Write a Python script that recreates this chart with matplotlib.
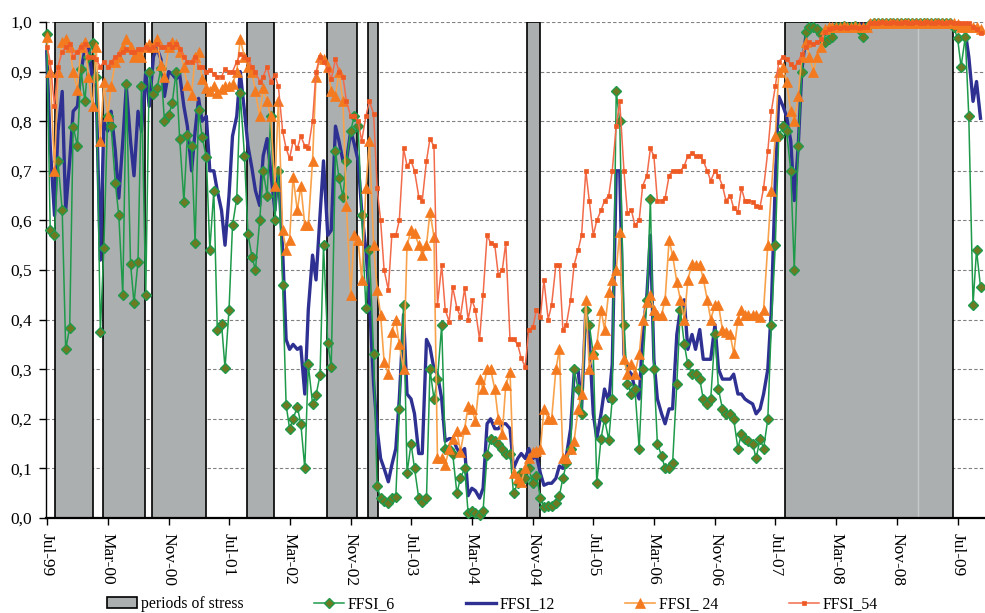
import pandas as pd
import matplotlib
matplotlib.use('Agg')
import matplotlib.pyplot as plt
import matplotlib.dates as mdates
from matplotlib.ticker import FuncFormatter

plt.rcParams['font.family'] = ['Liberation Serif', 'DejaVu Serif']

# semi-monthly observations starting 1 Jul 1999 (1st and 15th of each month)
start = '1999-07-01'

ffsi_6 = [
    0.975, 0.58, 0.57, 0.72, 0.62, 0.34, 0.384, 0.789, 0.75, 0.906, 0.84, 0.93,  # 1999
    0.957, 0.89, 0.376, 0.544, 0.81, 0.79, 0.675, 0.61, 0.45, 0.876, 0.513, 0.433,
    0.517, 0.87, 0.45, 0.90, 0.855, 0.866, 0.907, 0.80, 0.812, 0.836, 0.90, 0.765,  # 2000
    0.638, 0.772, 0.749, 0.554, 0.823, 0.769, 0.728, 0.54, 0.66, 0.379, 0.392, 0.302,
    0.42, 0.59, 0.644, 0.856, 0.73, 0.572, 0.527, 0.50, 0.60, 0.70, 0.65, 0.81,  # 2001
    0.60, 0.70, 0.47, 0.228, 0.18, 0.20, 0.224, 0.19, 0.10, 0.31, 0.23, 0.248,
    0.288, 0.55, 0.352, 0.305, 0.74, 0.685, 0.648, 0.72, 0.78, 0.81, 0.79, 0.61,  # 2002
    0.423, 0.54, 0.33, 0.065, 0.04, 0.035, 0.03, 0.04, 0.043, 0.22, 0.43, 0.09,
    0.15, 0.10, 0.04, 0.033, 0.04, 0.30, 0.24, 0.28, 0.389, 0.14, 0.14, 0.13,  # 2003
    0.05, 0.08, 0.10, 0.01, 0.015, 0.01, 0.006, 0.015, 0.127, 0.16, 0.155, 0.15,
    0.14, 0.13, 0.13, 0.05, 0.07, 0.09, 0.08, 0.10, 0.07, 0.085, 0.04, 0.023,  # 2004
    0.025, 0.025, 0.03, 0.045, 0.08, 0.11, 0.14, 0.30, 0.26, 0.21, 0.42, 0.39,
    0.33, 0.07, 0.16, 0.20, 0.157, 0.24, 0.86, 0.80, 0.39, 0.27, 0.25, 0.26,  # 2005
    0.14, 0.30, 0.44, 0.644, 0.30, 0.15, 0.125, 0.10, 0.10, 0.11, 0.27, 0.42,
    0.35, 0.31, 0.29, 0.29, 0.28, 0.24, 0.23, 0.24, 0.37, 0.26, 0.22, 0.21,  # 2006
    0.21, 0.20, 0.14, 0.17, 0.16, 0.155, 0.15, 0.12, 0.16, 0.14, 0.20, 0.39,
    0.55, 0.77, 0.79, 0.78, 0.70, 0.50, 0.75, 0.90, 0.98, 0.99, 0.99, 0.985,  # 2007
    0.975, 0.96, 0.965, 0.97, 0.99, 0.99, 0.992, 0.99, 0.99, 0.992, 0.985, 0.97,
    0.99, 0.995, 0.997, 0.997, 0.997, 0.998, 0.997, 0.997, 0.998, 0.997, 0.997, 0.998,  # 2008
    0.997, 0.997, 0.998, 0.997, 0.997, 0.998, 0.997, 0.997, 0.997, 0.998, 0.997, 0.99,
    0.967, 0.91, 0.97, 0.81, 0.43, 0.54, 0.466,  # 2009
]

ffsi_12 = [
    0.94, 0.75, 0.61, 0.78, 0.86, 0.62, 0.72, 0.82, 0.83, 0.90, 0.945, 0.955,
    0.88, 0.87, 0.52, 0.80, 0.78, 0.82, 0.74, 0.645, 0.76, 0.87, 0.76, 0.69,
    0.82, 0.78, 0.90, 0.83, 0.93, 0.947, 0.925, 0.85, 0.90, 0.895, 0.885, 0.895,
    0.83, 0.79, 0.70, 0.78, 0.846, 0.80, 0.81, 0.70, 0.70, 0.66, 0.62, 0.55,
    0.65, 0.77, 0.81, 0.90, 0.82, 0.75, 0.705, 0.66, 0.63, 0.73, 0.765, 0.70,
    0.62, 0.70, 0.54, 0.36, 0.34, 0.35, 0.34, 0.345, 0.25, 0.42, 0.53, 0.48,
    0.61, 0.72, 0.57, 0.58, 0.79, 0.76, 0.72, 0.72, 0.78, 0.755, 0.72, 0.62,
    0.54, 0.44, 0.27, 0.18, 0.12, 0.10, 0.073, 0.107, 0.14, 0.24, 0.41, 0.25,
    0.24, 0.21, 0.13, 0.13, 0.36, 0.345, 0.30, 0.29, 0.24, 0.155, 0.16, 0.16,
    0.14, 0.13, 0.14, 0.045, 0.06, 0.055, 0.04, 0.06, 0.19, 0.20, 0.18, 0.18,
    0.19, 0.19, 0.18, 0.10, 0.12, 0.13, 0.12, 0.14, 0.12, 0.125, 0.09, 0.066,
    0.07, 0.07, 0.08, 0.105, 0.10, 0.125, 0.18, 0.29, 0.30, 0.22, 0.42, 0.36,
    0.21, 0.16, 0.21, 0.26, 0.235, 0.31, 0.70, 0.70, 0.33, 0.30, 0.29, 0.26,
    0.24, 0.37, 0.45, 0.57, 0.32, 0.24, 0.21, 0.19, 0.22, 0.22, 0.37, 0.42,
    0.44, 0.34, 0.37, 0.34, 0.38, 0.32, 0.32, 0.32, 0.39, 0.30, 0.28, 0.28,
    0.28, 0.29, 0.25, 0.25, 0.24, 0.235, 0.23, 0.21, 0.22, 0.25, 0.30, 0.42,
    0.68, 0.85, 0.83, 0.81, 0.76, 0.64, 0.75, 0.90, 0.975, 0.985, 0.985, 0.985,
    0.98, 0.975, 0.98, 0.99, 0.99, 0.99, 0.99, 0.99, 0.99, 0.995, 0.995, 0.995,
    0.995, 0.995, 0.995, 0.995, 0.995, 0.995, 0.995, 0.995, 0.995, 0.995, 0.995, 0.995,
    0.995, 0.995, 0.995, 0.995, 0.995, 0.995, 0.995, 0.995, 0.995, 0.995, 0.995, 0.995,
    0.987, 0.987, 0.98, 0.93, 0.84, 0.88, 0.806,
]

ffsi_24 = [
    0.97, 0.90, 0.70, 0.90, 0.96, 0.965, 0.95, 0.90, 0.863, 0.95, 0.96, 0.89,
    0.83, 0.95, 0.76, 0.88, 0.81, 0.87, 0.92, 0.93, 0.95, 0.965, 0.95, 0.93,
    0.94, 0.93, 0.95, 0.955, 0.95, 0.965, 0.913, 0.89, 0.95, 0.96, 0.955, 0.94,
    0.91, 0.873, 0.853, 0.93, 0.94, 0.886, 0.866, 0.86, 0.87, 0.856, 0.865, 0.87,
    0.87, 0.875, 0.90, 0.965, 0.93, 0.91, 0.90, 0.86, 0.81, 0.866, 0.84, 0.81,
    0.67, 0.84, 0.58, 0.54, 0.56, 0.688, 0.62, 0.67, 0.59, 0.59, 0.72, 0.89,
    0.93, 0.925, 0.91, 0.86, 0.85, 0.90, 0.84, 0.63, 0.45, 0.57, 0.56, 0.48,
    0.665, 0.76, 0.55, 0.46, 0.41, 0.315, 0.29, 0.376, 0.40, 0.35, 0.30, 0.55,
    0.58, 0.575, 0.55, 0.53, 0.55, 0.617, 0.567, 0.12, 0.12, 0.107, 0.14, 0.16,
    0.175, 0.134, 0.18, 0.225, 0.22, 0.195, 0.28, 0.26, 0.30, 0.30, 0.26, 0.20,
    0.17, 0.268, 0.295, 0.09, 0.08, 0.072, 0.10, 0.12, 0.134, 0.135, 0.14, 0.22,
    0.20, 0.20, 0.30, 0.34, 0.12, 0.12, 0.14, 0.155, 0.22, 0.25, 0.44, 0.30,
    0.33, 0.35, 0.42, 0.38, 0.456, 0.48, 0.50, 0.577, 0.32, 0.29, 0.31, 0.29,
    0.33, 0.40, 0.436, 0.45, 0.42, 0.41, 0.41, 0.44, 0.56, 0.53, 0.476, 0.44,
    0.40, 0.48, 0.513, 0.51, 0.51, 0.483, 0.44, 0.40, 0.43, 0.43, 0.38, 0.375,
    0.37, 0.332, 0.40, 0.42, 0.41, 0.41, 0.41, 0.41, 0.405, 0.42, 0.55, 0.66,
    0.77, 0.90, 0.91, 0.88, 0.82, 0.80, 0.85, 0.93, 0.96, 0.93, 0.90, 0.93,
    0.95, 0.985, 0.99, 0.99, 0.99, 0.99, 0.992, 0.99, 0.99, 0.992, 0.99, 0.99,
    0.99, 0.997, 0.997, 0.997, 0.998, 0.997, 0.997, 0.998, 0.997, 0.997, 0.998, 0.997,
    0.997, 0.998, 0.997, 0.997, 0.998, 0.997, 0.997, 0.998, 0.997, 0.997, 0.998, 0.997,
    0.995, 0.99, 0.99, 0.99, 0.99, 0.99, 0.985,
]

ffsi_54 = [
    0.95, 0.92, 0.83, 0.91, 0.94, 0.95, 0.955, 0.93, 0.94, 0.95, 0.955, 0.93,
    0.93, 0.925, 0.91, 0.92, 0.91, 0.92, 0.93, 0.935, 0.94, 0.945, 0.94, 0.94,
    0.945, 0.945, 0.95, 0.945, 0.95, 0.955, 0.95, 0.95, 0.955, 0.95, 0.955, 0.945,
    0.93, 0.92, 0.92, 0.93, 0.91, 0.91, 0.90, 0.904, 0.895, 0.89, 0.89, 0.905,
    0.90, 0.90, 0.92, 0.935, 0.93, 0.925, 0.91, 0.90, 0.88, 0.89, 0.91, 0.88,
    0.893, 0.87, 0.78, 0.745, 0.725, 0.76, 0.745, 0.77, 0.75, 0.745, 0.80, 0.90,
    0.93, 0.92, 0.905, 0.885, 0.925, 0.90, 0.89, 0.84, 0.81, 0.81, 0.80, 0.76,
    0.81, 0.84, 0.815, 0.665, 0.60, 0.50, 0.46, 0.57, 0.57, 0.60, 0.745, 0.71,
    0.72, 0.70, 0.648, 0.64, 0.72, 0.765, 0.749, 0.43, 0.51, 0.42, 0.396, 0.466,
    0.423, 0.406, 0.463, 0.40, 0.44, 0.42, 0.36, 0.45, 0.57, 0.555, 0.55, 0.49,
    0.50, 0.555, 0.36, 0.36, 0.35, 0.322, 0.305, 0.38, 0.385, 0.42, 0.405, 0.48,
    0.40, 0.43, 0.51, 0.51, 0.38, 0.39, 0.44, 0.51, 0.54, 0.57, 0.70, 0.64,
    0.57, 0.60, 0.62, 0.64, 0.65, 0.70, 0.79, 0.84, 0.70, 0.614, 0.62, 0.59,
    0.60, 0.67, 0.69, 0.745, 0.73, 0.64, 0.64, 0.645, 0.69, 0.70, 0.70, 0.70,
    0.71, 0.73, 0.735, 0.73, 0.73, 0.72, 0.70, 0.68, 0.70, 0.69, 0.67, 0.64,
    0.65, 0.625, 0.617, 0.665, 0.64, 0.64, 0.638, 0.63, 0.628, 0.665, 0.74, 0.82,
    0.87, 0.92, 0.93, 0.925, 0.915, 0.91, 0.92, 0.935, 0.95, 0.96, 0.955, 0.96,
    0.965, 0.98, 0.985, 0.988, 0.99, 0.988, 0.99, 0.988, 0.99, 0.99, 0.988, 0.99,
    0.99, 0.998, 0.998, 0.998, 0.999, 0.998, 0.998, 0.999, 0.998, 0.998, 0.999, 0.998,
    0.998, 0.999, 0.998, 0.998, 0.999, 0.998, 0.998, 0.999, 0.998, 0.998, 0.999, 0.998,
    0.998, 0.998, 0.998, 0.998, 0.99, 0.985, 0.977,
]

stress_start = ['1999-08-04', '2000-02-10', '2000-08-28', '2001-09-13',
                '2002-07-28', '2003-01-10', '2004-10-07', '2007-08-10']
stress_end = ['2000-01-01', '2000-07-29', '2001-04-01', '2001-12-28',
              '2002-11-28', '2003-02-19', '2004-11-28', '2009-06-13']
stress_split = '2009-01-25'

tick_dates = pd.date_range('1999-07-01', '2009-07-01', freq='8MS')
x_range = ('1999-06-28', '2009-10-19')


def xs(values):
    return mdates.date2num(pd.date_range(start, periods=len(values), freq='SMS'))


fig = plt.figure(figsize=(9.85, 6.13), dpi=100)
ax = fig.add_axes([46 / 985, 1 - 518 / 613, 939 / 985, 496 / 613])

s0 = pd.to_datetime(stress_start)
s1 = pd.to_datetime(stress_end)
ax.bar(mdates.date2num(s0), [1.0] * len(s0), width=(s1 - s0).days, align='edge',
       color='#acafb0', edgecolor='black', linewidth=1.2, zorder=1,
       label='periods of stress')
ax.axvline(mdates.date2num(pd.Timestamp(stress_split)), ymin=0.003, ymax=0.995,
           color='#c6c9ca', lw=1, zorder=1.2)

ax.plot(xs(ffsi_6), ffsi_6, color='#1e9a4a', lw=1.1, marker='D', ms=4.8,
        mfc='#6e7a22', mec='#1e9a4a', mew=1.0, zorder=4, clip_on=False,
        label='FFSI_6')
ax.plot(xs(ffsi_12), ffsi_12, color='#2e3192', lw=2.4, zorder=3,
        clip_on=False, label='FFSI_12')
ax.plot(xs(ffsi_24), ffsi_24, color='#f9a24c', lw=1.2, marker='^', ms=7,
        mfc='#f47a20', mec='#f47a20', mew=0.5, zorder=5, clip_on=False,
        label='FFSI_ 24')
ax.plot(xs(ffsi_54), ffsi_54, color='#f26b4a', lw=1.1, marker='s', ms=3.0,
        mfc='#ee5a24', mec='#ee5a24', mew=0.5, zorder=6, clip_on=False,
        label='FFSI_54')

ax.set_xlim(mdates.date2num(pd.Timestamp(x_range[0])), mdates.date2num(pd.Timestamp(x_range[1])))
ax.set_ylim(0, 1.0)
ax.set_yticks([i / 10 for i in range(11)])
ax.yaxis.set_major_formatter(FuncFormatter(lambda v, p: f'{v:.1f}'.replace('.', ',')))
ax.set_xticks(mdates.date2num(tick_dates))
ax.set_xticklabels([d.strftime('%b-%y') for d in tick_dates])

ax.yaxis.grid(True, linestyle=(0, (3, 2)), color='#808080', linewidth=0.8)
ax.set_axisbelow(True)
ax.spines['top'].set_visible(False)
ax.spines['right'].set_visible(False)
ax.spines['left'].set_linewidth(1.0)
ax.spines['bottom'].set_linewidth(1.6)
ax.tick_params(axis='y', length=5, width=1, pad=5, labelsize=12.5)
ax.tick_params(axis='x', length=5, width=1, pad=6, labelsize=12.5, labelrotation=-90)

handles, labels = ax.get_legend_handles_labels()
order = ['periods of stress', 'FFSI_6', 'FFSI_12', 'FFSI_ 24', 'FFSI_54']
hl = dict(zip(labels, handles))
fig.legend([hl[k] for k in order], order, loc='center', bbox_to_anchor=(0.5, 1 - 604 / 613),
           ncol=5, frameon=False, fontsize=11.3, handlelength=1.9, columnspacing=4.5,
           handletextpad=0.25, borderaxespad=0, borderpad=0)

fig.savefig('out.png', dpi=100)
